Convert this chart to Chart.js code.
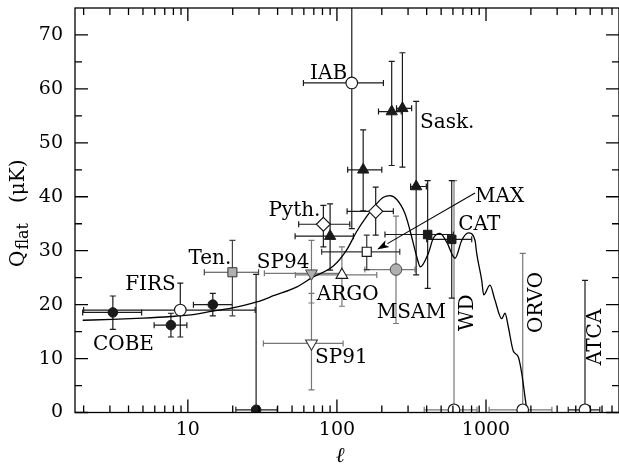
<!DOCTYPE html>
<html><head><meta charset="utf-8">
<script src="https://cdn.jsdelivr.net/npm/chart.js@4.4.1/dist/chart.umd.min.js"></script>
<style>html,body{margin:0;padding:0;background:#fff}</style>
</head><body>
<canvas id="c" width="619" height="465"></canvas>
<script>
// ---------- axis ranges / tick labels ----------
const xMin = 1.75, xMax = 7800, yMin = 0, yMax = 75;
const xLabelTicks = [10, 100, 1000];
const yLabelTicks = [0, 10, 20, 30, 40, 50, 60, 70];

// ---------- data (ell, Q_flat in microK) ----------
// filled black circles (COBE etc.)
const fcEll   = [3.14, 7.7, 14.7, 28.7];
const fcQ     = [18.55, 16.2, 20.0, 0.5];
const fcEllLo = [1.97, 5.94, 10.9, 21];
const fcEllHi = [4.9, 9.85, 19.9, 39.8];
const fcQLo   = [15.4, 14.0, 17.9, 0];
const fcQHi   = [21.6, 18.4, 22.1, 25.6];
// open circles (FIRS, IAB, WD, ORVO, ATCA)
const ocEll   = [8.9, 125.8, 610, 1763, 4613];
const ocQ     = [19.0, 61.1, 0.5, 0.5, 0.5];
const ocEllLo = [2.0, 59.6, 385, 1049, 3560];
const ocEllHi = [28.3, 205, 870, 2767, 5800];
const ocQLo   = [14.0, 34.1, 0, 0, 0];
const ocQHi   = [24.0, 80, 43, 29.5, 24.5];
// gray circle (MSAM)
const gcEll = [249], gcQ = [26.5], gcEllLo = [154], gcEllHi = [334], gcQLo = [16.5], gcQHi = [36.4];
// gray square (Tenerife)
const gsEll = [19.9], gsQ = [26.0], gsEllLo = [12.9], gsEllHi = [29.8], gsQLo = [17.9], gsQHi = [31.9];
// open square (MAX)
const osEll = [158.5], osQ = [29.8], osEllLo = [79], osEllHi = [264], osQLo = [26.5], osQHi = [32.9];
// black squares (CAT)
const bsEll = [406, 589], bsQ = [33.0, 32.1], bsEllLo = [210, 400], bsEllHi = [604, 802], bsQLo = [23.0, 21.2], bsQHi = [43.0, 43.0];
// open diamonds (Python)
const dmEll = [81.1, 182], dmQ = [34.9, 37.3], dmEllLo = [55.4, 117], dmEllHi = [122, 239], dmQLo = [30.7, 32.9], dmQHi = [38.4, 41.8];
// filled triangles (Saskatoon etc.)
const ftEll   = [90, 150, 233, 275, 340];
const ftQ     = [32.7, 45.0, 55.8, 56.4, 41.9];
const ftEllLo = [52.4, 118, 190, 251, 312];
const ftEllHi = [129, 200, 270, 317, 398];
const ftQLo   = [26.4, 37.4, 45.8, 45.5, 25.5];
const ftQHi   = [38.7, 52.4, 65.1, 66.7, 57.7];
// open up-triangle (ARGO)
const otEll = [108], otQ = [25.5], otEllLo = [52.6], otEllHi = [185], otQLo = [19.7], otQHi = [30.7];
// gray down-triangle (SP94)
const gdEll = [67.5], gdQ = [25.8], gdEllLo = [32.6], gdEllHi = [110], gdQLo = [20.3], gdQHi = [31.9];
// open down-triangle (SP91)
const odEll = [67.5], odQ = [12.8], odEllLo = [32.1], odEllHi = [110], odQLo = [4.2], odQHi = [22.1];

// model curve (traced)
const curveEll = [1.97, 3.1, 5, 7.7, 10, 14.7, 20, 29, 38, 54, 68, 95, 116, 136, 158, 182, 205, 227, 252, 286, 309, 343, 363, 410, 443, 491, 545, 620, 687, 761, 844, 866, 936, 965, 1063, 1149, 1274, 1341, 1411, 1524, 1647, 1736, 1826, 1880];
const curveQ   = [17.1, 17.25, 17.5, 17.8, 18.05, 18.8, 19.4, 20.5, 21.7, 23.3, 25.0, 27.2, 30.1, 33.6, 36.3, 38.5, 39.9, 40.2, 39.5, 36.9, 33.8, 28.9, 27.0, 29.5, 32.3, 33.2, 31.6, 28.6, 31.9, 33.3, 31.9, 29.5, 24.5, 21.8, 23.6, 20.8, 17.4, 18.4, 15.9, 11.4, 10.3, 7.3, 2.9, 0.3];

// text annotations
const labelText = ['IAB', 'Sask.', 'Pyth.', 'MAX', 'CAT', 'Ten.', 'SP94', 'FIRS', 'ARGO', 'MSAM', 'COBE', 'SP91'];
const labelEll  = [66.1, 361, 34.7, 844, 652, 10.1, 29.0, 3.80, 73.3, 185, 2.31, 71.4];
const labelQ    = [61.9, 52.7, 36.4, 39.0, 33.8, 27.6, 26.7, 22.8, 20.8, 17.6, 11.6, 9.1];
const vLabelText = ['WD', 'ORVO', 'ATCA'];
const vLabelEll  = [742, 2174, 5405];
const vLabelQ    = [18.5, 20.4, 14.0];
const arrowFrom = [844, 40.7], arrowTo = [186, 30.2];

// ---------- build ----------
const BLK = '#1a1a1a', GRY = '#777', FILLG = '#b0b0b0';
function pts(e, q) { return e.map((v, i) => ({ x: v, y: q[i] })); }
const errGroups = [
  { ell: fcEll, q: fcQ, lo: fcEllLo, hi: fcEllHi, qlo: fcQLo, qhi: fcQHi, color: BLK },
  { ell: ocEll, q: ocQ, lo: ocEllLo, hi: ocEllHi, qlo: ocQLo, qhi: ocQHi, color: [BLK, BLK, GRY, GRY, BLK] },
  { ell: gcEll, q: gcQ, lo: gcEllLo, hi: gcEllHi, qlo: gcQLo, qhi: gcQHi, color: GRY },
  { ell: gsEll, q: gsQ, lo: gsEllLo, hi: gsEllHi, qlo: gsQLo, qhi: gsQHi, color: '#444' },
  { ell: osEll, q: osQ, lo: osEllLo, hi: osEllHi, qlo: osQLo, qhi: osQHi, color: '#333' },
  { ell: bsEll, q: bsQ, lo: bsEllLo, hi: bsEllHi, qlo: bsQLo, qhi: bsQHi, color: BLK },
  { ell: dmEll, q: dmQ, lo: dmEllLo, hi: dmEllHi, qlo: dmQLo, qhi: dmQHi, color: BLK },
  { ell: ftEll, q: ftQ, lo: ftEllLo, hi: ftEllHi, qlo: ftQLo, qhi: ftQHi, color: BLK },
  { ell: otEll, q: otQ, lo: otEllLo, hi: otEllHi, qlo: otQLo, qhi: otQHi, color: GRY },
  { ell: gdEll, q: gdQ, lo: gdEllLo, hi: gdEllHi, qlo: gdQLo, qhi: gdQHi, color: GRY },
  { ell: odEll, q: odQ, lo: odEllLo, hi: odEllHi, qlo: odQLo, qhi: odQHi, color: GRY }
];

const datasets = [
  { data: pts(fcEll, fcQ), pointStyle: 'circle', pointRadius: 4.8, backgroundColor: BLK, borderColor: BLK, borderWidth: 1 },
  { data: pts(ocEll, ocQ), pointStyle: 'circle', pointRadius: 5.8, backgroundColor: '#fff', borderColor: BLK, borderWidth: 1.2 },
  { data: pts(gcEll, gcQ), pointStyle: 'circle', pointRadius: 5.8, backgroundColor: FILLG, borderColor: '#444', borderWidth: 1 },
  { data: pts(gsEll, gsQ), pointStyle: 'rect', pointRadius: 6.4, backgroundColor: FILLG, borderColor: '#333', borderWidth: 1 },
  { data: pts(osEll, osQ), pointStyle: 'rect', pointRadius: 6.4, backgroundColor: '#fff', borderColor: BLK, borderWidth: 1.2 },
  { data: pts(bsEll, bsQ), pointStyle: 'rect', pointRadius: 6.0, backgroundColor: BLK, borderColor: BLK, borderWidth: 1 },
  { data: pts(dmEll, dmQ), pointStyle: 'rectRot', pointRadius: 7, backgroundColor: '#fff', borderColor: BLK, borderWidth: 1.2 },
  { data: pts(ftEll, ftQ), pointStyle: 'triangle', pointRadius: 6.5, backgroundColor: BLK, borderColor: BLK, borderWidth: 1 },
  { data: pts(otEll, otQ), pointStyle: 'triangle', pointRadius: 6.8, backgroundColor: '#fff', borderColor: BLK, borderWidth: 1.1 },
  { data: pts(gdEll, gdQ), pointStyle: 'triangle', pointRotation: 180, pointRadius: 6.8, backgroundColor: FILLG, borderColor: '#444', borderWidth: 1 },
  { data: pts(odEll, odQ), pointStyle: 'triangle', pointRotation: 180, pointRadius: 6.8, backgroundColor: '#fff', borderColor: '#333', borderWidth: 1.1 },
  { data: pts(curveEll, curveQ), showLine: true, pointRadius: 0, borderColor: '#000', borderWidth: 1.3, cubicInterpolationMode: 'monotone', fill: false }
];

const errorBarPlugin = {
  id: 'errbars',
  beforeDatasetsDraw(chart) {
    const { ctx, chartArea: a, scales: { x, y } } = chart;
    const cap = 3;
    ctx.save();
    ctx.beginPath(); ctx.rect(a.left, a.top, a.right - a.left, a.bottom - a.top); ctx.clip();
    ctx.lineWidth = 1.2;
    errGroups.forEach(g => {
      g.ell.forEach((e, i) => {
        ctx.strokeStyle = Array.isArray(g.color) ? g.color[i] : g.color;
        const px = x.getPixelForValue(e), py = y.getPixelForValue(g.q[i]);
        const x0 = x.getPixelForValue(g.lo[i]), x1 = x.getPixelForValue(g.hi[i]);
        const y0 = y.getPixelForValue(g.qlo[i]), y1 = y.getPixelForValue(g.qhi[i]);
        ctx.beginPath();
        ctx.moveTo(x0, py); ctx.lineTo(x1, py);
        ctx.moveTo(x0, py - cap); ctx.lineTo(x0, py + cap);
        ctx.moveTo(x1, py - cap); ctx.lineTo(x1, py + cap);
        ctx.moveTo(px, y0); ctx.lineTo(px, y1);
        if (g.qlo[i] > 0) { ctx.moveTo(px - cap, y0); ctx.lineTo(px + cap, y0); }
        ctx.moveTo(px - cap, y1); ctx.lineTo(px + cap, y1);
        ctx.stroke();
      });
    });
    ctx.restore();
  }
};

const decorPlugin = {
  id: 'decor',
  afterDraw(chart) {
    const { ctx, chartArea: a, scales: { x, y } } = chart;
    ctx.save();
    // labels
    ctx.fillStyle = '#000';
    ctx.font = "20px 'DejaVu Serif'";
    ctx.textAlign = 'left'; ctx.textBaseline = 'alphabetic';
    labelText.forEach((t, i) => ctx.fillText(t, x.getPixelForValue(labelEll[i]), y.getPixelForValue(labelQ[i])));
    ctx.textAlign = 'center'; ctx.textBaseline = 'middle';
    vLabelText.forEach((t, i) => {
      ctx.save();
      ctx.translate(x.getPixelForValue(vLabelEll[i]), y.getPixelForValue(vLabelQ[i]));
      ctx.rotate(-Math.PI / 2);
      ctx.fillText(t, 0, 1);
      ctx.restore();
    });
    // arrow
    const ax0 = x.getPixelForValue(arrowFrom[0]), ay0 = y.getPixelForValue(arrowFrom[1]);
    const ax1 = x.getPixelForValue(arrowTo[0]), ay1 = y.getPixelForValue(arrowTo[1]);
    const ang = Math.atan2(ay1 - ay0, ax1 - ax0), L = 12, W = 4;
    const bx = ax1 - L * Math.cos(ang), by = ay1 - L * Math.sin(ang);
    ctx.strokeStyle = '#000'; ctx.lineWidth = 1.1;
    ctx.beginPath(); ctx.moveTo(ax0, ay0); ctx.lineTo(bx, by); ctx.stroke();
    ctx.beginPath();
    ctx.moveTo(ax1, ay1);
    ctx.lineTo(bx + W * Math.sin(ang), by - W * Math.cos(ang));
    ctx.lineTo(bx + 3 * Math.cos(ang), by + 3 * Math.sin(ang));
    ctx.lineTo(bx - W * Math.sin(ang), by + W * Math.cos(ang));
    ctx.closePath(); ctx.fillStyle = '#000'; ctx.fill();

    // frame + inward ticks
    ctx.strokeStyle = '#000'; ctx.lineWidth = 1.3;
    ctx.strokeRect(a.left, a.top, a.right - a.left, a.bottom - a.top);
    const MJ = 13, MN = 7;
    ctx.beginPath();
    for (let d = 1; d <= 1000; d *= 10) {
      for (let k = 1; k <= 9; k++) {
        const v = k * d;
        if (v < xMin || v > xMax) continue;
        const px = x.getPixelForValue(v), len = (k === 1) ? MJ : MN;
        ctx.moveTo(px, a.bottom); ctx.lineTo(px, a.bottom - len);
        ctx.moveTo(px, a.top); ctx.lineTo(px, a.top + len);
      }
    }
    for (let v = 0; v < yMax; v += 5) {
      const py = y.getPixelForValue(v), len = (v % 10 === 0) ? MJ : MN;
      ctx.moveTo(a.left, py); ctx.lineTo(a.left + len, py);
      ctx.moveTo(a.right, py); ctx.lineTo(a.right - len, py);
    }
    ctx.stroke();

    // axis titles
    ctx.fillStyle = '#000';
    ctx.save();
    ctx.translate(24, 267);
    ctx.rotate(-Math.PI / 2);
    ctx.textAlign = 'left'; ctx.textBaseline = 'alphabetic';
    ctx.font = "20px 'DejaVu Serif'";
    ctx.fillText('Q', 0, 0);
    const wq = ctx.measureText('Q').width;
    ctx.font = "16px 'DejaVu Serif'";
    ctx.fillText('flat', wq + 1, 4);
    ctx.font = "20px 'DejaVu Serif'";
    ctx.fillText('(\u03bcK)', 64, 0);
    ctx.restore();
    ctx.font = "italic 21px 'DejaVu Serif'";
    ctx.textAlign = 'center'; ctx.textBaseline = 'alphabetic';
    ctx.fillText('\u2113', 340, 462);
    ctx.restore();
  }
};

Chart.defaults.font.family = "'DejaVu Serif', serif";
Chart.defaults.color = '#000';

new Chart(document.getElementById('c').getContext('2d'), {
  type: 'scatter',
  data: { datasets },
  plugins: [errorBarPlugin, decorPlugin],
  options: {
    responsive: false, animation: false, events: [],
    layout: { autoPadding: false, padding: { top: 8, right: 0, left: 0, bottom: 0 } },
    plugins: { legend: { display: false }, tooltip: { enabled: false } },
    scales: {
      x: {
        type: 'logarithmic', min: xMin, max: xMax,
        grid: { display: false, drawTicks: false }, border: { display: false },
        ticks: { autoSkip: false, maxRotation: 0, padding: 6, font: { size: 19 }, color: '#000', callback: v => String(v) },
        afterBuildTicks: s => { s.ticks = xLabelTicks.map(v => ({ value: v })); },
        afterFit: s => { s.height = 52.5; s.paddingLeft = 0; s.paddingRight = 0; }
      },
      y: {
        type: 'linear', min: yMin, max: yMax,
        grid: { display: false, drawTicks: false }, border: { display: false },
        ticks: { padding: 12, font: { size: 19 }, color: '#000' },
        afterBuildTicks: s => { s.ticks = yLabelTicks.map(v => ({ value: v })); },
        afterFit: s => { s.width = 75; s.paddingTop = 0; s.paddingBottom = 0; }
      }
    }
  }
});
</script>
</body></html>
